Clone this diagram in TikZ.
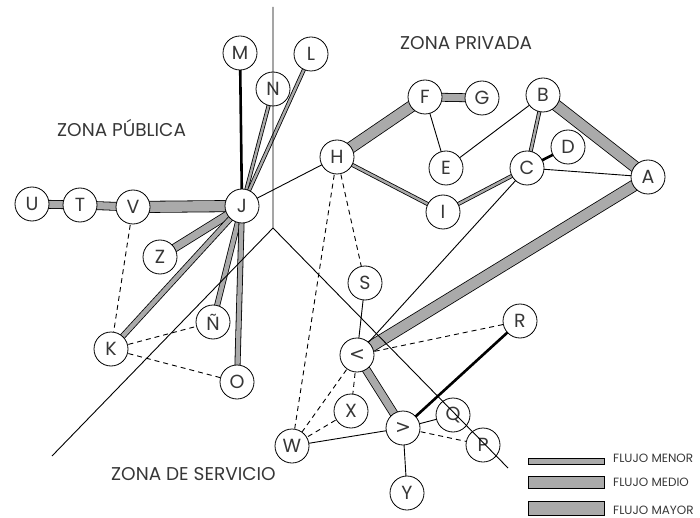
\documentclass[tikz,border=0pt]{standalone}
\usepackage{fontspec}
\setmainfont{Poppins}
\newfontfamily\symfont{DejaVu Sans}
\definecolor{flow}{RGB}{170,170,170}
\definecolor{ink}{RGB}{55,55,55}
\pgfdeclarelayer{bg}
\pgfdeclarelayer{fg}
\pgfsetlayers{bg,main,fg}
\tikzset{
  nd/.style={circle, draw, line width=0.8, fill=white, minimum size=34, inner sep=0,
             font=\fontsize{19}{19}\selectfont, text=ink},
  big/.style={font=\symfont\fontsize{19}{19}\selectfont},
  ln/.style={line width=0.9},
  dsh/.style={line width=0.9, dash pattern=on 5 off 4},
  dark/.style={line width=2.6},
  fine/.style={line width=0.8, double=flow, double distance=2.4},
  menor/.style={line width=0.8, double=flow, double distance=4.4},
  medio/.style={line width=0.8, double=flow, double distance=7.2},
  mayor/.style={line width=0.8, double=flow, double distance=10.4},
  zone/.style={line width=0.9},
  zlabel/.style={font=\fontsize{18.5}{18.5}\selectfont, text=ink, inner sep=0, anchor=base west},
  legbar/.style={draw, line width=0.8, fill=flow},
  legtext/.style={font=\fontsize{12}{12}\selectfont, text=ink, inner sep=0, anchor=base west},
}
\begin{document}
\begin{tikzpicture}[x=1pt,y=-1pt]
\useasboundingbox (0,0) rectangle (700,518);
% nodes
\node[nd] (M) at (240,53) {M};
\node[nd] (N) at (273,89) {N};
\node[nd] (L) at (311,54) {L};
\node[nd] (J) at (242,206) {J};
\node[nd] (H) at (337,157) {H};
\node[nd] (F) at (425,97) {F};
\node[nd] (G) at (482,98) {G};
\node[nd] (E) at (446,168) {E};
\node[nd] (B) at (543,95) {B};
\node[nd] (D) at (568,147) {D};
\node[nd] (C) at (527,168) {C};
\node[nd] (A) at (648,177) {A};
\node[nd] (I) at (443,212) {I};
\node[nd] (U) at (32,204) {U};
\node[nd] (T) at (80,205) {T};
\node[nd] (V) at (133,207) {V};
\node[nd] (Z) at (160,257) {Z};
\node[nd] (NN) at (213,322) {Ñ};
\node[nd] (K) at (111,349) {K};
\node[nd] (O) at (237,382) {O};
\node[nd] (S) at (365,283) {S};
\node[nd] (R) at (520,321) {R};
\node[nd,big] (lt) at (357,355) {<};
\node[nd] (X) at (351,411) {X};
\node[nd] (W) at (292,446) {W};
\node[nd,big] (gt) at (403,428) {>};
\node[nd] (Q) at (453,415) {Q};
\node[nd] (P) at (483,445) {P};
\node[nd] (Y) at (407,493) {Y};
% edges
\begin{pgfonlayer}{bg}
\draw[dark]  (J.center) -- (M.center);
\draw[fine]  (J.center) -- (N.center);
\draw[fine]  (J.center) -- (L.center);
\draw[ln]    (J.center) -- (H.center);
\draw[mayor] (J.center) -- (V.center);
\draw[medio] (V.center) -- (T.center);
\draw[medio] (T.center) -- (U.center);
\draw[medio] (J.center) -- (Z.center);
\draw[menor] (J.center) -- (K.center);
\draw[menor] (J.center) -- (NN.center);
\draw[menor] (J.center) -- (O.center);
\draw[dsh]   (V.center) -- (K.center);
\draw[dsh]   (K.center) -- (NN.center);
\draw[dsh]   (K.center) -- (O.center);
\draw[mayor] (H.center) -- (F.center);
\draw[medio] (F.center) -- (G.center);
\draw[ln]    (F.center) -- (E.center);
\draw[ln]    (E.center) -- (B.center);
\draw[fine]  (H.center) -- (I.center);
\draw[fine]  (I.center) -- (C.center);
\draw[fine]  (B.center) -- (C.center);
\draw[dark]  (C.center) -- (D.center);
\draw[ln]    (C.center) -- (A.center);
\draw[mayor] (B.center) -- (A.center);
\draw[mayor] (A.center) -- (lt.center);
\draw[ln]    (C.center) -- (lt.center);
\draw[dsh]   (H.center) -- (S.center);
\draw[dsh]   (H.center) -- (W.center);
\draw[ln]    (S.center) -- (lt.center);
\draw[dsh]   (lt.center) -- (R.center);
\draw[medio] (lt.center) -- (gt.center);
\draw[dsh]   (lt.center) -- (W.center);
\draw[dsh]   (lt.center) -- (X.center);
\draw[dsh]   (X.center) -- (W.center);
\draw[ln]    (W.center) -- (gt.center);
\draw[dark]  (gt.center) -- (R.center);
\draw[ln]    (gt.center) -- (Q.center);
\draw[dsh]   (gt.center) -- (P.center);
\draw[ln]    (gt.center) -- (Y.center);
\end{pgfonlayer}
% zone lines
\coordinate (zt) at (273,7);
\coordinate (zc) at (273,228);
\coordinate (zl) at (52,456);
\coordinate (zr) at (508,468);
\begin{pgfonlayer}{fg}
\draw[zone] (zt) -- (zc) -- (zl);
\draw[zone] (zc) -- (zr);
\end{pgfonlayer}
% zone labels
\node[zlabel] (zpriv) at (400,50) {ZONA PRIVADA};
\node[zlabel] (zpub) at (57,137) {ZONA PÚBLICA};
\node[zlabel] (zserv) at (111,480) {ZONA DE SERVICIO};
% legend
\draw[legbar] (528,458) rectangle (604,464);
\draw[legbar] (528,476) rectangle (604,488);
\draw[legbar] (528,501) rectangle (604,515);
\node[legtext] (l1) at (613,462) {FLUJO MENOR};
\node[legtext] (l2) at (613,486) {FLUJO MEDIO};
\node[legtext] (l3) at (613,514) {FLUJO MAYOR};
\end{tikzpicture}
\end{document}
